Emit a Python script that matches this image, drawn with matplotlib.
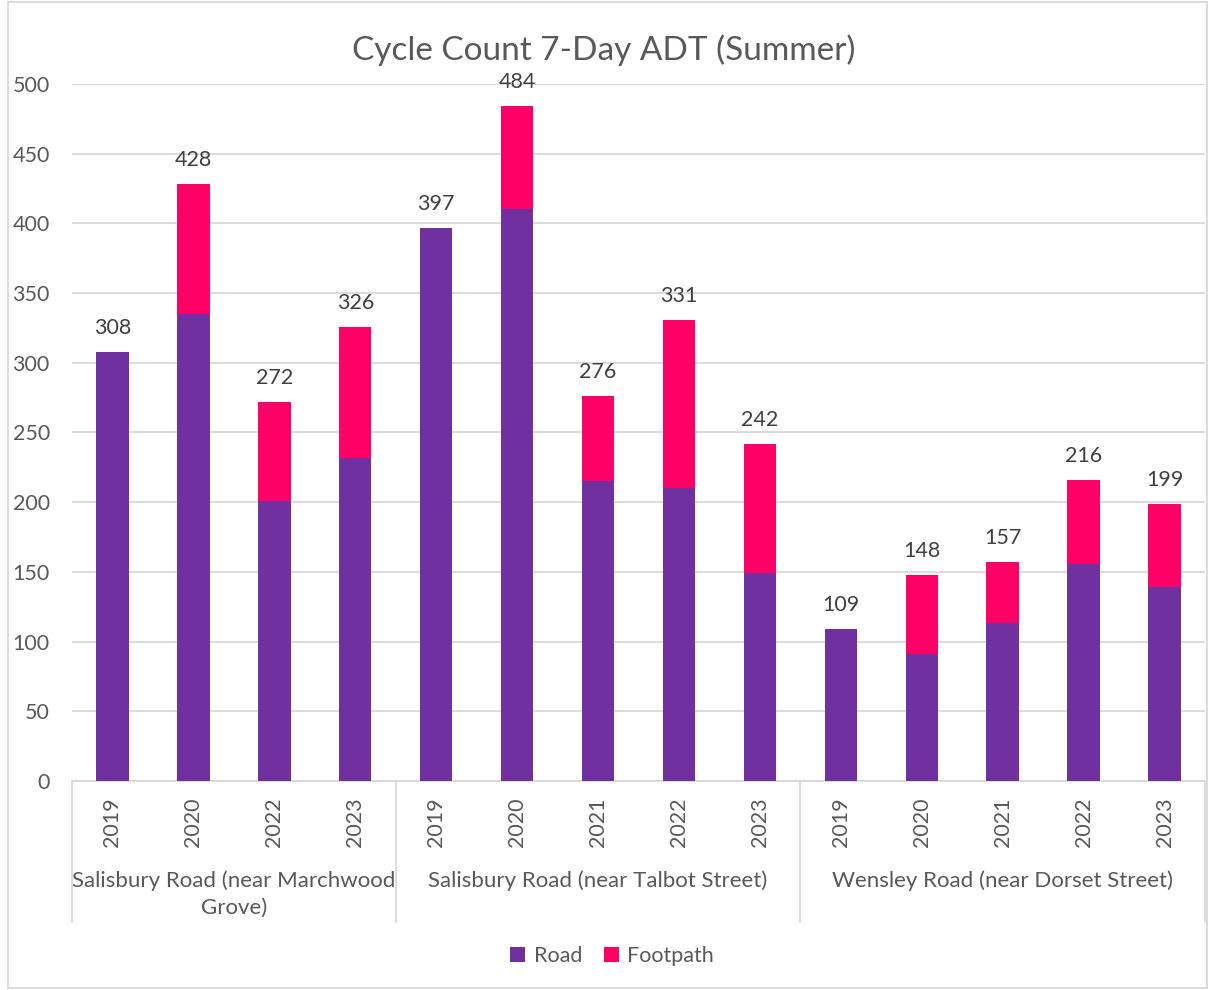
import matplotlib
matplotlib.use('Agg')
import matplotlib.pyplot as plt
import matplotlib.transforms as mtransforms
from matplotlib.patches import Rectangle
import numpy as np

# 数据
groups = ['Salisbury Road (near Marchwood\nGrove)',
          'Salisbury Road (near Talbot Street)',
          'Wensley Road (near Dorset Street)']
years = [['2019', '2020', '2022', '2023'],
         ['2019', '2020', '2021', '2022', '2023'],
         ['2019', '2020', '2021', '2022', '2023']]
road = [308, 335, 201, 232,
        397, 410, 215, 210, 149,
        109, 91, 113, 156, 139]
total = [308, 428, 272, 326,
         397, 484, 276, 331, 242,
         109, 148, 157, 216, 199]
footpath = [t - r for t, r in zip(total, road)]

c_road = '#7030A0'
c_foot = '#FF0066'
txt = '#595959'
grid_c = '#D9D9D9'

plt.rcParams['font.family'] = ['Lato', 'DejaVu Sans']

fig = plt.figure(figsize=(12.08, 9.90), dpi=100)
ax = fig.add_axes([72/1208, 1 - 781/990, 1133/1208, 697/990])

x = np.arange(len(road))
ax.bar(x, road, 0.4, color=c_road, label='Road', zorder=3)
ax.bar(x, footpath, 0.4, bottom=road, color=c_foot, label='Footpath', zorder=3)

for xi, t in zip(x, total):
    ax.annotate(str(t), (xi, t), xytext=(0, 10), textcoords='offset points',
                ha='center', va='bottom', fontsize=15.5, color='#404040')

ax.set_xlim(-0.5, len(road) - 0.5)
ax.set_ylim(0, 500)
ax.set_yticks(range(0, 501, 50))
ax.yaxis.grid(True, color=grid_c, linewidth=1.3, zorder=0)
ax.tick_params(axis='y', length=0, labelsize=15.5, labelcolor=txt, pad=16)
for s in ['top', 'right', 'left']:
    ax.spines[s].set_visible(False)
ax.spines['bottom'].set_color(grid_c)
ax.spines['bottom'].set_linewidth(1.3)

ax.set_xticks(x)
ax.set_xticklabels([y for g in years for y in g], rotation=90)
ax.tick_params(axis='x', length=0, labelsize=15.5, labelcolor=txt, pad=12)

# 分组分隔线和分组标签
trans = mtransforms.blended_transform_factory(ax.transData, ax.transAxes)
edges = np.cumsum([0] + [len(g) for g in years]) - 0.5
for e in edges:
    ax.plot([e, e], [0, -0.202], transform=trans, color=grid_c, lw=1.3, clip_on=False)
for i, g in enumerate(groups):
    cx = (edges[i] + edges[i + 1]) / 2
    ax.text(cx, -0.128, g, transform=trans, ha='center', va='top',
            fontsize=16, color=txt, linespacing=1.45)

fig.suptitle('Cycle Count 7-Day ADT (Summer)', y=1 - 50/990, va='center',
             fontsize=24, color=txt)

fig.legend(loc='center', bbox_to_anchor=(612/1208, 1 - 956/990), ncol=2,
           frameon=False, fontsize=15.5, handlelength=0.7, handleheight=0.7,
           columnspacing=1.0, handletextpad=0.4, labelcolor=txt)

fig.patches.append(Rectangle((8/1208, 0.002), 1 - 9/1208, 0.996,
                             transform=fig.transFigure, fill=False,
                             edgecolor=grid_c, lw=1.3))

fig.savefig('out.png', dpi=100)
